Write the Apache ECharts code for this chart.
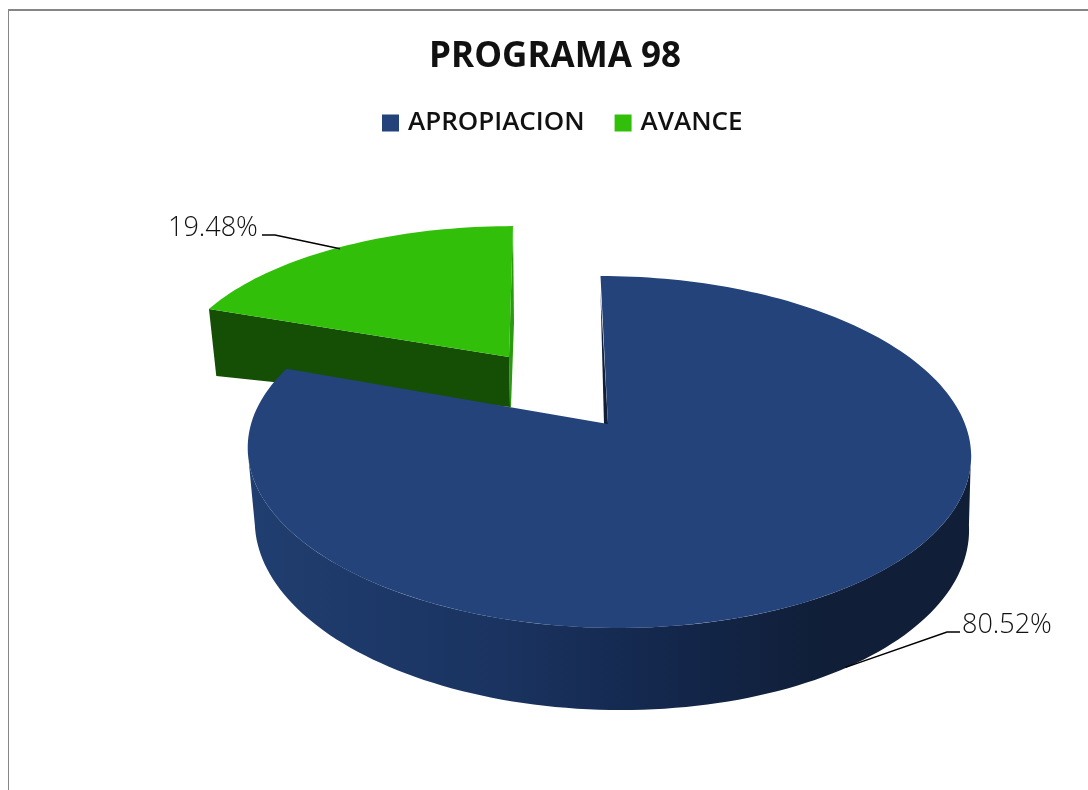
<!DOCTYPE html>
<html>
<head>
<meta charset="utf-8">
<style>html,body{margin:0;padding:0;background:#fff;overflow:hidden}#c{width:1088px;height:790px}</style>
<script src="https://cdn.jsdelivr.net/npm/echarts@6/dist/echarts.min.js"></script>
</head>
<body>
<div id="c"></div>
<script>
// ---- data ----
const categories = ['APROPIACION', 'AVANCE'];
const shares = [80.52, 19.48];
const chartTitle = 'PROGRAMA 98';

// ---- styling ----
const palette = ['#23437A', '#31BF0A'];
const FONT = '"Open Sans", sans-serif';

// perspective disc: maps a polar angle (clockwise from 12 o'clock) to the page
function disc(p) {
  return function (deg) {
    const t = deg * Math.PI / 180, u = Math.sin(t), v = -Math.cos(t), w = 1 - p.k * v;
    return [p.x + (p.a * u + p.s * v) / w, p.y + p.b * v / w];
  };
}
function arc(f, from, to) {
  const pts = [], n = Math.max(2, Math.ceil(Math.abs(to - from) / 1.5));
  for (let i = 0; i <= n; i++) pts.push(f(from + (to - from) * i / n));
  return pts;
}
const total = shares.reduce((a, b) => a + b, 0);
const sweep = shares.map(v => v / total * 360);

const blueTop = disc({ x: 608, y: 424, a: 357, b: 171.5, s: 8.7, k: 0.159 });
const blueLow = disc({ x: 610.5, y: 496, a: 352.5, b: 180, s: 8.7, k: 0.159 });
const greenTop = disc({ x: 509, y: 357, a: 334, b: 147, s: -4.5, k: 0.123 });
const greenLow = disc({ x: 510, y: 407, a: 327, b: 95, s: -4.5, k: 0.123 });

function poly(points, fill, z) {
  return { type: 'polygon', z2: z || 0, shape: { points }, style: { fill } };
}
function leader(points) {
  return { type: 'polyline', z2: 20, shape: { points }, style: { stroke: '#000', lineWidth: 1.5, fill: 'none' } };
}
function label(text, x, y) {
  return { type: 'text', z2: 21, x, y, style: { text, font: '300 27px ' + FONT, fill: '#111', textAlign: 'left', textVerticalAlign: 'middle' } };
}

function renderBlue(params, api) {
  const end = api.value(0) / total * 360;
  const pivot = [608, 424];
  const wallGrad = new echarts.graphic.LinearGradient(247, 0, 972, 0, [
    { offset: 0, color: '#203E70' },
    { offset: 0.35, color: '#1A3360' },
    { offset: 0.6, color: '#13264A' },
    { offset: 0.8, color: '#101E37' },
    { offset: 1, color: '#101E37' }
  ], true);
  const wall = arc(blueTop, 99, 261).concat(arc(blueLow, 261, 99));
  const top = [pivot].concat(arc(blueTop, 0, end));
  const rim = blueTop(0);
  const anchor = blueLow(end / 2);
  return { type: 'group', children: [
    poly(wall, wallGrad, 1),
    poly([[rim[0], rim[1] + 16], [pivot[0] - 4, pivot[1]], pivot], '#101E37', 2),
    poly(top, palette[0], 3),
    leader([[anchor[0] - 6, anchor[1] + 2], [947, 632], [960, 632]]),
    label(api.value(0).toFixed(2) + '%', 962, 625)
  ] };
}
function renderGreen(params, api) {
  const start = sweep[0], end = start + api.value(0) / total * 360;
  const pivot = [509, 357];
  const pivotLow = [510, 407];
  const top = [pivot].concat(arc(greenTop, start, 360));
  const a = greenTop(start), b = greenLow(start), r = greenTop(end), rl = greenLow(end);
  const anchor = greenTop((start + end) / 2);
  return { type: 'group', children: [
    poly([r, pivot, pivotLow, [pivotLow[0] + 1, pivotLow[1]], rl], '#2C9A10', 1),
    poly([a, pivot, pivotLow, b], '#154F05', 2),
    poly(top, palette[1], 3),
    leader([[anchor[0] + 2, anchor[1] + 1], [275, 235], [262, 235]]),
    label(api.value(0).toFixed(2) + '%', 168, 228)
  ] };
}

const chart = echarts.init(document.getElementById('c'), null, { renderer: 'canvas', width: 1088, height: 790 });
chart.setOption({
  animation: false,
  backgroundColor: '#fff',
  color: palette,
  title: {
    text: chartTitle, left: 550, top: 35, textAlign: 'center',
    textStyle: { fontFamily: FONT, fontWeight: 'bold', fontSize: 35, color: '#111' }
  },
  legend: {
    left: 377, top: 105, itemWidth: 17, itemHeight: 17, itemGap: 30,
    data: categories.map(name => ({ name, icon: 'rect' })),
    textStyle: { fontFamily: FONT, fontWeight: 600, fontSize: 26, color: '#111', padding: [0, 0, 0, 4] },
    selectedMode: false
  },
  graphic: [
    { type: 'rect', shape: { x: 8, y: 9, width: 1080, height: 2 }, style: { fill: '#868686' }, silent: true },
    { type: 'rect', shape: { x: 8, y: 9, width: 1, height: 781 }, style: { fill: '#868686' }, silent: true }
  ],
  series: [
    { type: 'custom', name: categories[1], coordinateSystem: 'none', renderItem: renderGreen, data: [[shares[1]]], z: 1, silent: true, itemStyle: { color: palette[1] } },
    { type: 'custom', name: categories[0], coordinateSystem: 'none', renderItem: renderBlue, data: [[shares[0]]], z: 2, silent: true, itemStyle: { color: palette[0] } }
  ]
});
</script>
</body>
</html>
